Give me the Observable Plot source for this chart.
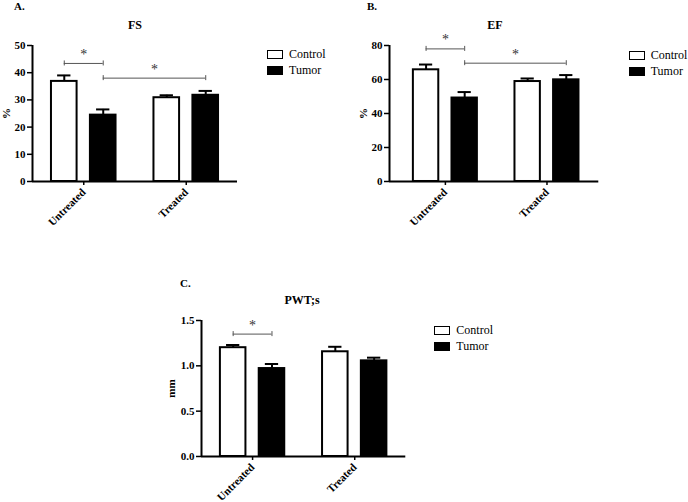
<!DOCTYPE html>
<html><head><meta charset="utf-8">
<script src="https://cdn.jsdelivr.net/npm/d3@7"></script>
<script src="https://cdn.jsdelivr.net/npm/@observablehq/plot@0.6"></script>
<style>
body{margin:0;background:#fff}
#root{position:relative;width:688px;height:502px;overflow:hidden;font-family:"Liberation Serif","Times New Roman",serif;color:#000}
.abs{position:absolute;line-height:1;white-space:nowrap;font-family:"Liberation Serif","Times New Roman",serif}
.ttl{font-weight:bold;font-size:12px}
.lg{font-size:12px}
.box{position:absolute;box-sizing:border-box;width:16px;height:9px;border:1.5px solid #000}
</style>
</head><body><div id="root"></div>
<script>
// ---- data ----
const groups = ["Untreated", "Treated"];
const series = ["Control", "Tumor"];

// A. FS (%)
const fsControl = [36.8, 30.8];
const fsControlErr = [2.2, 0.9];
const fsTumor = [24.4, 31.7];
const fsTumorErr = [2.1, 1.6];
const fsTicks = [0, 10, 20, 30, 40, 50];
const fsBrackets = [
  {from: ["Untreated", "Control"], to: ["Untreated", "Tumor"], y: 43.4, label: "*"},
  {from: ["Untreated", "Tumor"], to: ["Treated", "Tumor"], y: 38, label: "*"}
];

// B. EF (%)
const efControl = [65.7, 58.8];
const efControlErr = [3.1, 1.8];
const efTumor = [49.1, 59.8];
const efTumorErr = [3.5, 2.8];
const efTicks = [0, 20, 40, 60, 80];
const efBrackets = [
  {from: ["Untreated", "Control"], to: ["Untreated", "Tumor"], y: 78, label: "*"},
  {from: ["Untreated", "Tumor"], to: ["Treated", "Tumor"], y: 69.6, label: "*"}
];

// C. PWT;s (mm)
const pwtControl = [1.20, 1.155];
const pwtControlErr = [0.03, 0.055];
const pwtTumor = [0.97, 1.055];
const pwtTumorErr = [0.05, 0.035];
const pwtTicks = [0, 0.5, 1.0, 1.5];
const pwtBrackets = [
  {from: ["Untreated", "Control"], to: ["Untreated", "Tumor"], y: 1.35, label: "*"}
];

// ---- layout ----
const OFF = 0.19, HW = 0.125, CAPW = 0.065;
const ML = 40, MR = 10, MT = 45, MB = 60, FH = 136;
const font = "'Liberation Serif','Times New Roman',serif";
const root = document.getElementById("root");

function xc(g, s) { return groups.indexOf(g) + 0.5 + (series.indexOf(s) === 0 ? -OFF : OFF); }

function panel(cfg) {
  const rows = [];
  groups.forEach((g, i) => {
    rows.push({group: g, series: "Control", value: cfg.control[i], err: cfg.controlErr[i]});
    rows.push({group: g, series: "Tumor", value: cfg.tumor[i], err: cfg.tumorErr[i]});
  });
  rows.forEach(d => d.x = xc(d.group, d.series));
  const ymax = cfg.ticks[cfg.ticks.length - 1];
  const capH = 2.5 * ymax / FH;
  const br = cfg.brackets.map(b => ({...b, x1: xc(...b.from), x2: xc(...b.to)}));
  const ends = br.flatMap(b => [{x: b.x1, y: b.y}, {x: b.x2, y: b.y}]);
  const x0 = cfg.xDomain[0];
  const svg = Plot.plot({
    width: ML + cfg.frameW + MR,
    height: MT + FH + MB,
    marginLeft: ML, marginRight: MR, marginTop: MT, marginBottom: MB,
    x: {domain: cfg.xDomain, axis: null},
    y: {domain: [0, ymax], axis: null},
    style: {fontFamily: font, fontSize: "11px", background: "transparent", overflow: "visible", color: "#000"},
    marks: [
      Plot.rectY(rows.filter(d => d.series === "Control"), {x1: d => d.x - HW, x2: d => d.x + HW, y1: 0, y2: "value", fill: "white", stroke: "black", strokeWidth: 2}),
      Plot.rectY(rows.filter(d => d.series === "Tumor"), {x1: d => d.x - HW, x2: d => d.x + HW, y1: 0, y2: "value", fill: "black", stroke: "black", strokeWidth: 2}),
      Plot.ruleX(rows, {x: "x", y1: "value", y2: d => d.value + d.err, stroke: "black", strokeWidth: 2}),
      Plot.ruleY(rows, {y: d => d.value + d.err, x1: d => d.x - CAPW, x2: d => d.x + CAPW, stroke: "black", strokeWidth: 2}),
      Plot.ruleY(br, {y: "y", x1: "x1", x2: "x2", stroke: "#555", strokeWidth: 1}),
      Plot.ruleX(ends, {x: "x", y1: d => d.y - capH, y2: d => d.y + capH, stroke: "#555", strokeWidth: 1}),
      Plot.text(br, {x: d => (d.x1 + d.x2) / 2, y: "y", text: "label", dy: -9, fontSize: 14, fill: "#333", fontFamily: font}),
      Plot.ruleY([0], {stroke: "black", strokeWidth: 2}),
      Plot.ruleX([x0], {y1: 0, y2: ymax, stroke: "black", strokeWidth: 2}),
      Plot.axisY({ticks: cfg.ticks, tickFormat: cfg.tickFormat, tickSize: 5, tickPadding: 2, fontWeight: "bold", fontSize: 11, strokeWidth: 1.5,
        fontFamily: font, label: cfg.yLabel, labelAnchor: "center", labelOffset: cfg.labelOffset, labelArrow: "none"}),
      Plot.axisX({ticks: groups.map((g, i) => i + 0.5), tickFormat: v => groups[Math.floor(v)], tickRotate: -45, tickSize: 4, tickPadding: 5,
        fontWeight: "bold", fontSize: 11, strokeWidth: 1.5, fontFamily: font, label: null})
    ]
  });
  svg.style.position = "absolute";
  svg.style.left = (cfg.axisX - ML) + "px";
  svg.style.top = (cfg.topY - MT) + "px";
  root.appendChild(svg);

  const t = document.createElement("div");
  t.className = "abs ttl";
  t.textContent = cfg.title;
  t.style.left = cfg.titleX + "px";
  t.style.top = cfg.titleY + "px";
  t.style.transform = "translateX(-50%)";
  root.appendChild(t);

  const p = document.createElement("div");
  p.className = "abs ttl";
  p.style.fontSize = "11px";
  p.textContent = cfg.tag;
  p.style.left = cfg.tagX + "px";
  p.style.top = cfg.tagY + "px";
  root.appendChild(p);

  series.forEach((s, i) => {
    const cy = cfg.legY + i * 16;
    const b = document.createElement("div");
    b.className = "box";
    b.style.left = cfg.legX + "px";
    b.style.top = (cy - 4.5) + "px";
    b.style.background = s === "Control" ? "#fff" : "#000";
    root.appendChild(b);
    const l = document.createElement("div");
    l.className = "abs lg";
    l.textContent = s;
    l.style.left = (cfg.legX + 22) + "px";
    l.style.top = (cy - 6.5) + "px";
    root.appendChild(l);
  });
}

panel({control: fsControl, controlErr: fsControlErr, tumor: fsTumor, tumorErr: fsTumorErr, ticks: fsTicks, tickFormat: d3.format("d"),
  brackets: fsBrackets, yLabel: "%", labelOffset: 30, frameW: 205, xDomain: [0, 2], axisX: 32, topY: 45.3,
  title: "FS", titleX: 135, titleY: 18.5, tag: "A.", tagX: 14, tagY: 0.5, legX: 267, legY: 54});
panel({control: efControl, controlErr: efControlErr, tumor: efTumor, tumorErr: efTumorErr, ticks: efTicks, tickFormat: d3.format("d"),
  brackets: efBrackets, yLabel: "%", labelOffset: 30, frameW: 209.3, xDomain: [-0.05, 2.01], axisX: 388.7, topY: 45.3,
  title: "EF", titleX: 495, titleY: 18.5, tag: "B.", tagX: 367, tagY: 0.5, legX: 628.7, legY: 55});
panel({control: pwtControl, controlErr: pwtControlErr, tumor: pwtTumor, tumorErr: pwtTumorErr, ticks: pwtTicks, tickFormat: d3.format(".1f"),
  brackets: pwtBrackets, yLabel: "mm", labelOffset: 34, frameW: 204.3, xDomain: [0, 2], axisX: 200.7, topY: 319.7,
  title: "PWT;s", titleX: 302, titleY: 293.5, tag: "C.", tagX: 180, tagY: 277.5, legX: 434.3, legY: 330});
</script>
</body></html>
